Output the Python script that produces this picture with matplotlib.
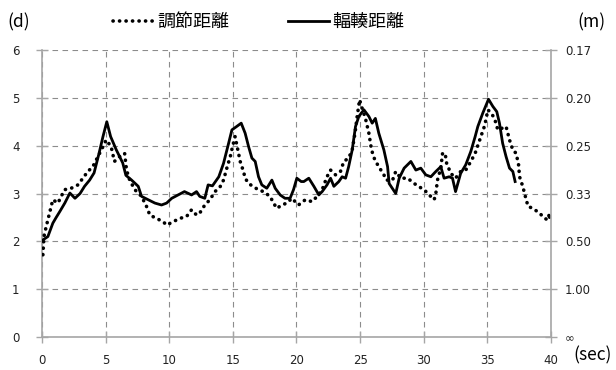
import matplotlib
matplotlib.use('Agg')
import matplotlib.pyplot as plt

plt.rcParams['font.family'] = ['DejaVu Sans']

# 調節距離 (accommodation), dotted
acc_t = [0.08, 0.16, 0.34, 0.73, 0.86, 1.26, 1.78, 2.3, 2.83, 3.22, 3.61, 4.0, 4.4, 4.8,
         5.05, 5.44, 5.7, 6.1, 6.5, 6.65, 6.9, 7.3, 7.83, 8.22, 8.48, 9.0, 9.53, 9.8,
         10.3, 10.84, 11.37, 11.76, 12.15, 12.4, 12.8, 13.2, 13.6, 14.0, 14.27, 14.53,
         14.8, 14.98, 15.18, 15.45, 15.58, 15.84, 15.97, 16.24, 16.63, 17.0, 17.4, 17.93,
         18.2, 18.46, 18.85, 19.25, 19.64, 20.16, 20.7, 21.23, 21.62, 22.02, 22.4, 22.68,
         23.07, 23.46, 23.72, 24.1, 24.38, 24.6, 24.77, 24.96, 25.16, 25.42, 25.69, 25.9,
         26.16, 26.47, 26.87, 27.05, 27.55, 27.8, 28.2, 28.73, 29.25, 29.64, 30.03, 30.43,
         30.82, 30.95, 31.08, 31.34, 31.48, 31.68, 31.8, 32.13, 32.5, 32.9, 33.3, 33.7,
         34.04, 34.4, 34.8, 35.04, 35.3, 35.56, 35.82, 36.2, 36.47, 36.74, 37.0, 37.26,
         37.45, 37.53, 37.79, 38.05, 38.2, 38.57, 39.1, 39.5, 39.76, 39.88, 39.9]
acc_d = [1.72, 2.1, 2.31, 2.73, 2.87, 2.8, 3.08, 3.11, 3.18, 3.32, 3.46, 3.56, 3.77, 3.98,
         4.12, 3.98, 3.67, 3.77, 3.84, 3.49, 3.28, 3.08, 2.94, 2.73, 2.55, 2.48, 2.41, 2.34,
         2.41, 2.48, 2.52, 2.66, 2.55, 2.59, 2.76, 2.87, 3.04, 3.14, 3.28, 3.53,
         3.77, 3.98, 4.19, 3.84, 3.67, 3.46, 3.32, 3.21, 3.14, 3.08, 3.04, 2.94,
         2.8, 2.69, 2.76, 2.8, 2.9, 2.76, 2.87, 2.83, 2.94, 3.08, 3.35, 3.49,
         3.39, 3.46, 3.67, 3.74, 3.91, 4.26, 4.61, 4.96, 4.78, 4.57, 4.26, 3.91,
         3.7, 3.56, 3.39, 3.28, 3.28, 3.46, 3.32, 3.32, 3.21, 3.14, 3.08, 2.97,
         2.87, 3.0, 3.28, 3.53, 3.84, 3.84, 3.63, 3.42, 3.32, 3.46, 3.49, 3.67,
         3.84, 4.12, 4.43, 4.75, 4.68, 4.57, 4.33, 4.37, 4.4, 4.12, 3.91, 3.84,
         3.6, 3.35, 3.14, 2.87, 2.73, 2.69, 2.59, 2.48, 2.45, 2.59, 2.41]

# 輻輳距離 (convergence), solid
conv_t = [0.08, 0.47, 0.86, 1.1, 1.4, 1.8, 2.2, 2.6, 3.0, 3.35, 3.75, 4.1, 4.5, 4.8, 5.1,
          5.4, 5.85, 6.35, 6.6, 7.05, 7.57, 7.83, 8.35, 8.88, 9.4, 9.8, 10.2, 10.7, 11.2,
          11.76, 12.15, 12.4, 12.8, 13.06, 13.4, 13.9, 14.27, 14.67, 14.93, 15.3, 15.66,
          15.97, 16.24, 16.5, 16.76, 17.02, 17.28, 17.67, 18.07, 18.33, 18.72, 19.1, 19.5,
          19.77, 20.03, 20.37, 20.58, 20.97, 21.37, 21.76, 22.02, 22.4, 22.68, 22.94,
          23.33, 23.59, 23.86, 24.1, 24.38, 24.64, 24.9, 25.3, 25.69, 25.95, 26.2, 26.47,
          26.87, 27.16, 27.28, 27.8, 28.07, 28.46, 28.99, 29.38, 29.77, 30.16, 30.56,
          30.95, 31.34, 31.6, 32.0, 32.26, 32.5, 32.9, 33.3, 33.7, 34.04, 34.25, 34.64,
          35.09, 35.43, 35.74, 35.95, 36.2, 36.47, 36.74, 37.0, 37.18]
conv_d = [2.03, 2.1, 2.38, 2.49, 2.62, 2.8, 3.01, 2.9, 3.0, 3.15, 3.28, 3.43, 3.85, 4.19, 4.5,
          4.19, 3.91, 3.64, 3.38, 3.28, 3.15, 2.94, 2.87, 2.8, 2.76, 2.8, 2.9, 2.97, 3.04,
          2.97, 3.04, 2.94, 2.9, 3.18, 3.16, 3.35, 3.63, 4.05, 4.33, 4.4, 4.47,
          4.26, 3.98, 3.74, 3.67, 3.35, 3.18, 3.11, 3.28, 3.11, 2.97, 2.9, 2.9,
          3.08, 3.32, 3.25, 3.25, 3.32, 3.15, 2.97, 3.04, 3.18, 3.32, 3.15,
          3.25, 3.35, 3.32, 3.56, 3.91, 4.4, 4.61, 4.75, 4.61, 4.47, 4.57, 4.26,
          3.91, 3.56, 3.21, 3.0, 3.32, 3.53, 3.67, 3.49, 3.53, 3.39, 3.35,
          3.46, 3.56, 3.32, 3.35, 3.32, 3.04, 3.42, 3.6, 3.88, 4.19, 4.4, 4.68,
          4.97, 4.82, 4.71, 4.47, 4.05, 3.77, 3.53, 3.46, 3.25]

x_ticks = [0, 5, 10, 15, 20, 25, 30, 35, 40]
d_ticks = [0, 1, 2, 3, 4, 5, 6]
m_labels = ['∞', '1.00', '0.50', '0.33', '0.25', '0.20', '0.17']

axis_grey = '#a6a6a6'
grid_grey = '#8c8c8c'
cjk = ['Noto Sans CJK JP', 'DejaVu Sans']

fig = plt.figure(figsize=(6.16, 3.70), dpi=100)
ax = fig.add_axes([0.068, 0.089, 0.8265, 0.776])

ax.plot(acc_t, acc_d, color='black', lw=2.6, dashes=(0.05, 1.75),
        dash_capstyle='round', label='調節距離', zorder=3)
ax.plot(conv_t, conv_d, color='black', lw=2.0, label='輻輳距離', zorder=4)

ax.set_xlim(0, 40)
ax.set_ylim(0, 6)
ax.set_xticks(x_ticks)
ax.set_yticks(d_ticks)
ax.grid(True, color=grid_grey, ls=(0, (5, 4)), lw=0.8)
for s in ['top', 'right']:
    ax.spines[s].set_visible(False)
for s in ['left', 'bottom']:
    ax.spines[s].set_color(axis_grey)
    ax.spines[s].set_linewidth(1.2)
ax.tick_params(axis='both', direction='inout', length=8, width=1, color=axis_grey,
               labelsize=8.5, labelcolor='#222222')
ax.tick_params(axis='y', pad=12)
ax.tick_params(axis='x', pad=8)

ax2 = ax.twinx()
ax2.set_ylim(0, 6)
ax2.set_yticks(d_ticks)
ax2.set_yticklabels(m_labels)
for s in ['top', 'left', 'bottom']:
    ax2.spines[s].set_visible(False)
ax2.spines['right'].set_color(axis_grey)
ax2.spines['right'].set_linewidth(1.2)
ax2.tick_params(axis='y', direction='inout', length=8, width=1, color=axis_grey,
                labelsize=8.5, labelcolor='#222222', pad=6)

fig.text(0.012, 0.94, '(d)', fontsize=12.5, family=cjk, va='center')
fig.text(0.983, 0.94, '(m)', fontsize=12.5, family=cjk, va='center', ha='right')
fig.text(0.993, 0.04, '(sec)', fontsize=12.5, family=cjk, va='center', ha='right')

leg = fig.legend(loc='center', bbox_to_anchor=(0.42, 0.94), ncol=2, frameon=False,
                 prop={'family': cjk, 'size': 13}, handlelength=2.3,
                 handletextpad=0.2, columnspacing=3.2)

fig.savefig('out.png', dpi=100)
